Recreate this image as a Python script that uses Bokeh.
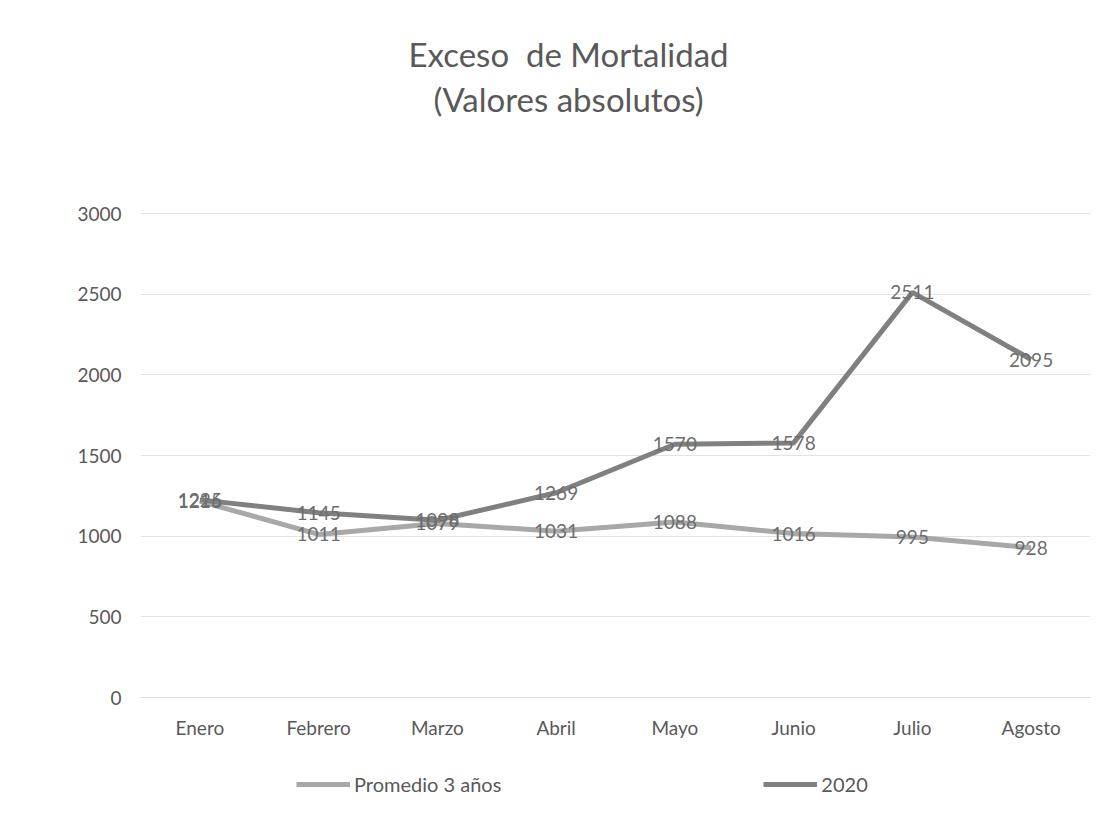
from bokeh.plotting import figure
from bokeh.models import Range1d, Label, Legend, LegendItem, ColumnDataSource, LabelSet
from bokeh.core.properties import value
from bokeh.embed import file_html
from bokeh.resources import INLINE

months = ["Enero", "Febrero", "Marzo", "Abril", "Mayo", "Junio", "Julio", "Agosto"]
promedio = [1216, 1011, 1079, 1031, 1088, 1016, 995, 928]
y2020 = [1225, 1145, 1098, 1269, 1570, 1578, 2511, 2095]
yticks = [0, 500, 1000, 1500, 2000, 2500, 3000]
title_lines = ["Exceso \u00a0de Mortalidad", "(Valores absolutos)"]

FONT = "Lato"
TXT = "#595959"

# frame spans the full height; value axis 0..3000 occupies 484 px of it
PX_PER_UNIT = 484 / 3000
FRAME_H = 804
TOP_PAD = 213
y_end = 3000 + TOP_PAD / PX_PER_UNIT
y_start = y_end - FRAME_H / PX_PER_UNIT

p = figure(x_range=months, y_range=Range1d(y_start, y_end),
           frame_width=950, frame_height=FRAME_H,
           output_backend="svg", toolbar_location=None,
           min_border_left=140, min_border_right=10, min_border_top=0, min_border_bottom=0)
p.outline_line_color = None
p.background_fill_color = "white"

p.yaxis.ticker = yticks
p.yaxis.axis_line_color = None
p.yaxis.major_tick_line_color = None
p.yaxis.minor_tick_line_color = None
p.yaxis.major_label_text_font = FONT
p.yaxis.major_label_text_font_size = "19px"
p.yaxis.major_label_text_color = TXT
p.yaxis.major_label_standoff = 13

p.xaxis.fixed_location = 0
p.xaxis.axis_line_color = "#d9d9d9"
p.xaxis.major_tick_line_color = None
p.xaxis.minor_tick_line_color = None
p.xaxis.major_label_text_font = FONT
p.xaxis.major_label_text_font_size = "19px"
p.xaxis.major_label_text_color = TXT
p.xaxis.major_label_standoff = 12

p.xgrid.grid_line_color = None
p.ygrid.ticker = yticks
p.ygrid.grid_line_color = "#e3e3e3"
p.ygrid.grid_line_width = 1

src = ColumnDataSource(dict(m=months, prom=promedio, y20=y2020,
                            prom_t=[str(v) for v in promedio], y20_t=[str(v) for v in y2020]))

r1 = p.line("m", "prom", source=src, line_color="#a8a8a8", line_width=5)
r2 = p.line("m", "y20", source=src, line_color="#808080", line_width=5)

for col, tcol in (("prom", "prom_t"), ("y20", "y20_t")):
    p.add_layout(LabelSet(x="m", y=col, text=tcol, source=src, text_align="center",
                          text_baseline="middle", text_font=value(FONT), text_font_size="19px",
                          text_color="#6e6e6e"))

for txt, yy in zip(title_lines, (FRAME_H - 53, FRAME_H - 98)):
    p.add_layout(Label(x=428, y=yy, x_units="screen", y_units="screen", text=txt,
                       text_align="center", text_baseline="middle", text_font=FONT,
                       text_font_size="33px", text_color=TXT))

legend = Legend(items=[LegendItem(label="Promedio 3 años", renderers=[r1]),
                       LegendItem(label="2020", renderers=[r2])],
                orientation="horizontal", location=(156, 8), spacing=262,
                glyph_width=54, label_standoff=4, label_text_font=FONT,
                label_text_font_size="20px", label_text_color=TXT, padding=8,
                border_line_color=None, background_fill_alpha=0, margin=0)
p.add_layout(legend, "center")

open("out.html", "w").write(file_html(p, INLINE))
